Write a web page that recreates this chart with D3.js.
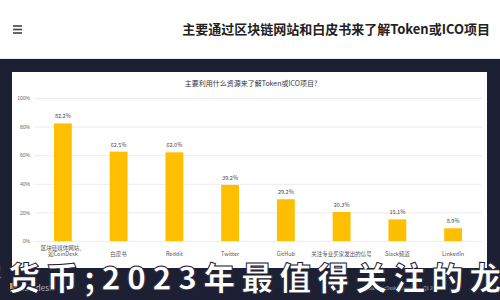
<!DOCTYPE html>
<html>
<head>
  <meta charset="utf-8">
  <title>Token / ICO 信息来源</title>
  <script src="https://d3js.org/d3.v7.min.js"></script>
  <style>
    body { margin: 0; background: #1d2033; }
    svg { display: block; font-family: "Noto Sans CJK SC", "Noto Sans", sans-serif; }
  </style>
</head>
<body>
  <div id="chart"></div>

  <script>
    // data
    const categories = ["区块链媒体网站，如CoinDesk", "白皮书", "Reddit", "Twitter", "GitHub",
                        "关注专业买家发出的信号", "Slack频道", "LinkedIn"];
    const values = [82.2, 62.5, 62.0, 39.2, 29.2, 20.3, 15.1, 8.9];
    const yTicks = [0, 20, 40, 60, 80, 100];

    const pageTitle = "主要通过区块链网站和白皮书来了解Token或ICO项目";
    const chartTitle = "主要利用什么资源来了解Token或ICO项目?";
    const overlayText = "密货币;2023年最值得关注的龙";

    const width = 500, height = 300;

    const svg = d3.select("#chart")
      .append("svg")
      .attr("width", width)
      .attr("height", height);

    // page header
    svg.append("rect")
      .attr("x", 0).attr("y", 0)
      .attr("width", width).attr("height", 58)
      .attr("fill", "#ffffff");
    svg.append("line")
      .attr("x1", 0).attr("x2", width)
      .attr("y1", 58.5).attr("y2", 58.5)
      .attr("stroke", "#e6e8ee");

    // hamburger icon
    [26, 29.5, 33].forEach(function(y) {
      svg.append("rect")
        .attr("x", 13).attr("y", y - 0.8)
        .attr("width", 9).attr("height", 1.6)
        .attr("fill", "#444");
    });

    svg.append("text")
      .attr("x", 490)
      .attr("y", 34)
      .attr("text-anchor", "end")
      .style("font-size", "13px")
      .style("font-weight", "bold")
      .attr("fill", "#222")
      .text(pageTitle);

    // white chart panel
    svg.append("rect")
      .attr("x", 12).attr("y", 72)
      .attr("width", 475).attr("height", 196)
      .attr("fill", "#ffffff");

    svg.append("text")
      .attr("x", 251)
      .attr("y", 86)
      .attr("text-anchor", "middle")
      .style("font-size", "7px")
      .attr("fill", "#333")
      .text(chartTitle);

    const xScale = d3.scaleBand()
      .domain(categories)
      .range([35, 481])
      .paddingInner(0.68)
      .paddingOuter(0.34);

    const yScale = d3.scaleLinear()
      .domain([0, 100])
      .range([241, 98]);

    // grid + y labels
    const yAxis = svg.append("g")
      .attr("transform", "translate(35,0)")
      .call(d3.axisLeft(yScale)
        .tickValues(yTicks)
        .tickSize(-447)
        .tickFormat(d => d + "%"));
    yAxis.select(".domain").remove();
    yAxis.selectAll("line").attr("stroke", "#ececec");
    yAxis.selectAll("text")
      .attr("x", -5)
      .style("font-size", "5px")
      .attr("fill", "#666");

    svg.selectAll(".bar")
      .data(values)
      .enter()
      .append("rect")
      .attr("class", "bar")
      .attr("x", (d, i) => xScale(categories[i]))
      .attr("y", d => yScale(d))
      .attr("width", xScale.bandwidth())
      .attr("height", d => yScale(0) - yScale(d))
      .attr("fill", "#fdbf00");

    svg.selectAll(".val")
      .data(values)
      .enter()
      .append("text")
      .attr("class", "val")
      .attr("x", (d, i) => xScale(categories[i]) + xScale.bandwidth() / 2)
      .attr("y", d => yScale(d) - 5)
      .attr("text-anchor", "middle")
      .style("font-size", "5.5px")
      .attr("fill", "#444")
      .text(d => d.toFixed(1) + "%");

    // category labels (first one wraps)
    const xAxis = svg.append("g");
    categories.forEach(function(c, i) {
      const cx = xScale(c) + xScale.bandwidth() / 2;
      const lines = c.indexOf("，") > 0 ? [c.split("，")[0] + "、", c.split("，")[1]] : [c];
      const t = xAxis.append("text")
        .attr("x", cx)
        .attr("y", lines.length > 1 ? 249.5 : 256)
        .attr("text-anchor", "middle")
        .style("font-size", "5.5px")
        .attr("fill", "#555");
      lines.forEach(function(l, j) {
        t.append("tspan")
          .attr("x", cx)
          .attr("dy", j === 0 ? 0 : 6.5)
          .text(l);
      });
    });

    // footer bits on the dark band
    svg.append("rect")
      .attr("x", 10).attr("y", 283)
      .attr("width", 7).attr("height", 9)
      .attr("fill", "#c9a227");
    svg.append("text")
      .attr("x", 20).attr("y", 291)
      .style("font-size", "8px")
      .attr("fill", "#b8bccb")
      .text("coindesk");
    svg.append("text")
      .attr("x", 440).attr("y", 290)
      .attr("text-anchor", "end")
      .style("font-size", "4.5px")
      .attr("fill", "#b8bccb")
      .text("Data: CoinDesk Research · Q1 2023");

    // big overlay headline
    svg.append("text")
      .attr("x", -30)
      .attr("y", 290)
      .style("font-size", "32px")
      .style("font-weight", "900")
      .style("letter-spacing", "6px")
      .attr("fill", "#ffffff")
      .attr("stroke", "#1d2033")
      .attr("stroke-width", 1)
      .text(overlayText);
  </script>
</body>
</html>
